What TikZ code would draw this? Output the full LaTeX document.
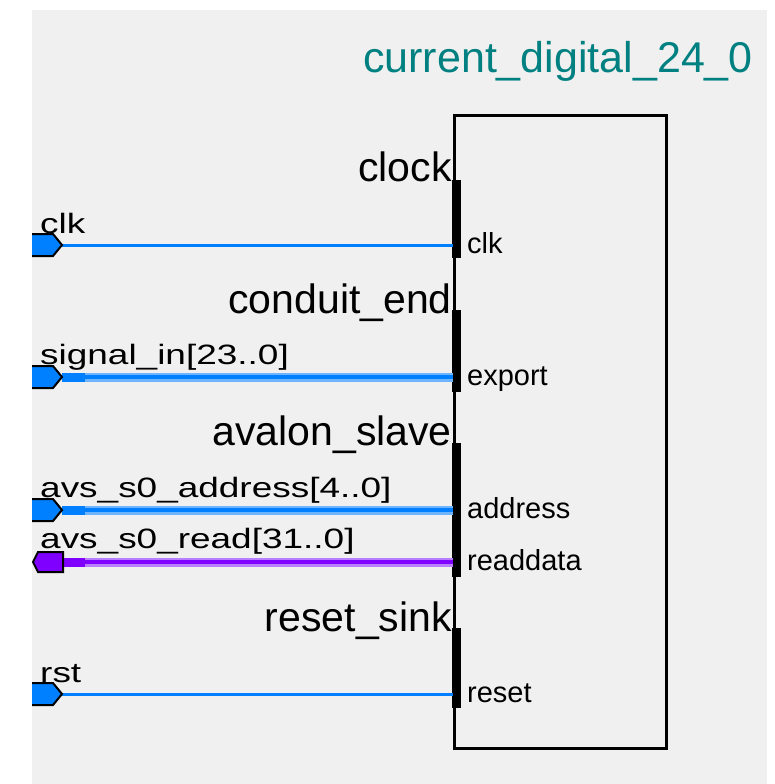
\documentclass[tikz,border=0pt]{standalone}
\usepackage{fontspec}
\setmainfont{Liberation Sans}
\newfontfamily\pinfont[FakeStretch=1.32]{Liberation Sans}
\usetikzlibrary{calc}

\definecolor{panelgrey}{RGB}{240,240,240}
\definecolor{wireblue}{RGB}{0,128,255}
\definecolor{buslight}{RGB}{110,180,255}
\definecolor{wirepurple}{RGB}{128,0,255}
\definecolor{purplelight}{RGB}{185,125,255}
\definecolor{titleteal}{RGB}{0,128,128}

\tikzset{
    inpin/.pic={
        \filldraw [fill=wireblue, draw=black, line width=2pt] (-30,-11) -- (-9,-11) -- (0,0) -- (-9,11) -- (-30,11);
    },
    outpin/.pic={
        \filldraw [fill=wirepurple, draw=black, line width=2pt] (0,-10) -- (-25,-10) -- (-30,0) -- (-25,10) -- (0,10) -- cycle;
    }
}

\begin{document}
\begin{tikzpicture}[x=1pt, y=-1pt,
        ifname/.style={anchor=base east, inner sep=0pt, font=\fontsize{41}{41}\selectfont},
        pinname/.style={anchor=base west, inner sep=0pt, font=\pinfont\fontsize{28}{28}\selectfont},
        portname/.style={anchor=base west, inner sep=0pt, font=\fontsize{29}{29}\selectfont},
        wire/.style={draw=wireblue, line width=3pt},
        buswire/.style={draw=#1, line width=4pt},
        busedge/.style={draw=#1, line width=9pt}]

        \useasboundingbox (0,0) rectangle (775,784);
        \fill [panelgrey] (32,10) rectangle (767,784);

        %% Component
        \node (comp) [draw, line width=3pt, minimum width=212pt, minimum height=633pt, anchor=north west, inner sep=0pt] at (453,114) {};
        \node (title) [anchor=base, inner sep=0pt, text=titleteal, font=\fontsize{43}{43}\selectfont] at (558,72) {current\_digital\_24\_0};

        %% Interfaces
        \node (clock) [ifname] at (452,181) {clock};
        \node (conduit) [ifname] at (452,313) {conduit\_end};
        \node (avalon) [ifname] at (452,445) {avalon\_slave};
        \node (resetsink) [ifname] at (452,631) {reset\_sink};

        \fill (452,180) rectangle (461,258);
        \fill (452,310) rectangle (461,392);
        \fill (452,443) rectangle (461,577);
        \fill (452,628) rectangle (461,708);

        %% Pins
        \coordinate (clkpin) at (62,245);
        \coordinate (sigpin) at (62,377);
        \coordinate (addrpin) at (62,510);
        \coordinate (readpin) at (63,562);
        \coordinate (rstpin) at (62,694);

        \node (clklbl) [pinname] at (40,233) {clk};
        \node (siglbl) [pinname] at (40,364) {signal\_in[23..0]};
        \node (addrlbl) [pinname] at (40,497) {avs\_s0\_address[4..0]};
        \node (readlbl) [pinname] at (40,548) {avs\_s0\_read[31..0]};
        \node (rstlbl) [pinname] at (40,682) {rst};

        %% Ports
        \node (clkport) [portname] at (467,253) {clk};
        \node (export) [portname] at (467,385) {export};
        \node (address) [portname] at (467,518) {address};
        \node (readdata) [portname] at (467,570) {readdata};
        \node (reset) [portname] at (467,702) {reset};

        %% Wires
        \draw [wire] (clkpin) -- (clkpin -| comp.west);
        \draw [wire] (rstpin) -- (rstpin -| comp.west);

        \draw [busedge=buslight] (sigpin) -- (sigpin -| comp.west);
        \draw [buswire=wireblue] (sigpin) -- (sigpin -| comp.west);
        \draw [busedge=wireblue] (sigpin) -- ($(sigpin) + (23,0)$);

        \draw [busedge=buslight] (addrpin) -- (addrpin -| comp.west);
        \draw [buswire=wireblue] (addrpin) -- (addrpin -| comp.west);
        \draw [busedge=wireblue] (addrpin) -- ($(addrpin) + (23,0)$);

        \draw [busedge=purplelight] (readpin) -- (readpin -| comp.west);
        \draw [buswire=wirepurple] (readpin) -- (readpin -| comp.west);
        \draw [busedge=wirepurple] (readpin) -- ($(readpin) + (22,0)$);

        \pic at (clkpin) {inpin};
        \pic at (sigpin) {inpin};
        \pic at (addrpin) {inpin};
        \pic at (readpin) {outpin};
        \pic at (rstpin) {inpin};

\end{tikzpicture}
\end{document}
